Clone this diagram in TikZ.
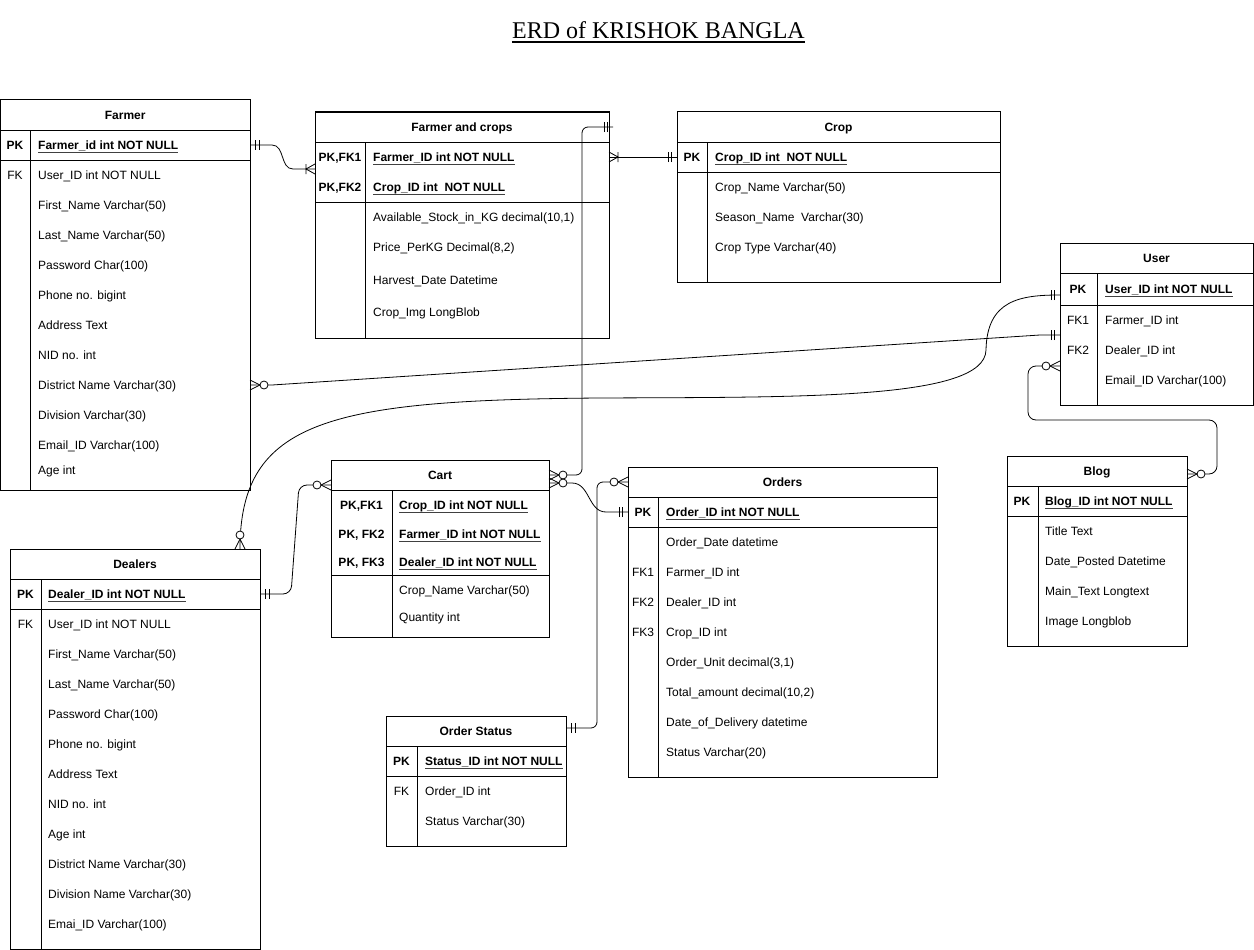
\documentclass[tikz,border=0pt]{standalone}
\usepackage{fontspec}
\setmainfont{Liberation Sans}
\newfontfamily\serifttl{Liberation Serif}
\usetikzlibrary{calc}
\newcommand\myul[1]{\setbox0=\hbox{#1}\rlap{\color{black!75}\rule[-3.2pt]{\wd0}{0.9pt}}\box0}
\tikzset{
  tblbox/.style={draw, line width=1pt, anchor=north west, inner sep=0pt, outer sep=0pt},
  inner/.style={line width=1pt},
  edge/.style={line width=0.8pt},
  hdr/.style={font=\bfseries\fontsize{12}{14}\selectfont, inner sep=0pt, text height=8.6pt, text depth=0pt, anchor=center},
  keytxt/.style={font=\fontsize{12}{14}\selectfont, inner sep=0pt, text height=8.6pt, text depth=0pt, anchor=center},
  fldtxt/.style={font=\fontsize{12}{14}\selectfont, inner sep=0pt, text height=8.6pt, text depth=0pt, anchor=west},
  mone/.pic={\draw[edge] (5.5,-5)--(5.5,5) (9,-5)--(9,5);},
  onemany/.pic={\draw[edge] (0,-5)--(9,0)--(0,5) (9,-5)--(9,5);},
  zeromany/.pic={\draw[edge] (0,-5)--(10,0)--(0,5); \draw[edge,fill=white] (14,0) circle[radius=4pt];},
}
\newcommand\erbox[7]{%
  \node[tblbox, minimum width=#4pt, minimum height=#5pt] (#1) at (#2,#3) {};
  \node[hdr] (#1-hdr) at ({#2+#4/2},{#3+15}) {#7};
  \draw[inner] (#2,{#3+30}) -- ({#2+#4},{#3+30});
  \draw[inner] (#6,{#3+30}) -- (#6,{#3+#5});
}
\newcommand\sepline[3]{\draw[inner] (#1,#3) -- (#2,#3);}
\newcommand\fld[6]{%
  \if\relax\detokenize{#5}\relax\else\node[keytxt] (#1-k) at (#2,#4) {#5};\fi
  \node[fldtxt] (#1) at (#3,#4) {#6};}
\begin{document}
\begin{tikzpicture}[x=1pt,y=-1pt]
\useasboundingbox (0,0) rectangle (1254,950);
% title
\node[font=\serifttl\fontsize{24}{28}\selectfont, inner sep=0pt, anchor=base] (title) at (658.5,39) {ERD of KRISHOK BANGLA};
\draw[line width=1.3pt] ([yshift=-3pt]title.base west) -- ([yshift=-3pt]title.base east);

% Farmer
\erbox{farmer}{0.5}{100}{249.5}{390}{30}{Farmer}
\sepline{0.5}{250}{160}
\fld{fa1}{15}{38}{145}{\textbf{PK}}{\textbf{\myul{Farmer\_id int NOT NULL}}}
\fld{fa2}{15}{38}{175}{FK}{User\_ID int NOT NULL}
\fld{fa3}{15}{38}{205}{}{First\_Name Varchar(50)}
\fld{fa4}{15}{38}{235}{}{Last\_Name Varchar(50)}
\fld{fa5}{15}{38}{265}{}{Password Char(100)}
\fld{fa6}{15}{38}{295}{}{Phone no. bigint}
\fld{fa7}{15}{38}{325}{}{Address Text}
\fld{fa8}{15}{38}{355}{}{NID no. int}
\fld{fa9}{15}{38}{385}{}{District Name Varchar(30)}
\fld{fa10}{15}{38}{415}{}{Division Varchar(30)}
\fld{fa11}{15}{38}{445}{}{Email\_ID Varchar(100)}
\fld{fa12}{15}{38}{470}{}{Age int}

% Farmer and crops
\erbox{fc}{315}{112}{294}{226}{365}{Farmer and crops}
\sepline{315}{609}{202}
\fld{fc1}{340}{373}{157}{\textbf{PK,FK1}}{\textbf{\myul{Farmer\_ID int NOT NULL}}}
\fld{fc2}{340}{373}{187}{\textbf{PK,FK2}}{\textbf{\myul{Crop\_ID int\ \ NOT NULL}}}
\fld{fc3}{340}{373}{217}{}{Available\_Stock\_in\_KG decimal(10,1)}
\fld{fc4}{340}{373}{247}{}{Price\_PerKG Decimal(8,2)}
\fld{fc5}{340}{373}{280}{}{Harvest\_Date Datetime}
\fld{fc6}{340}{373}{312}{}{Crop\_Img LongBlob}

% Crop
\erbox{crop}{677}{112}{323}{170}{707}{Crop}
\sepline{677}{1000}{172}
\fld{cr1}{692}{715}{157}{\textbf{PK}}{\textbf{\myul{Crop\_ID int\ \ NOT NULL}}}
\fld{cr2}{692}{715}{187}{}{Crop\_Name Varchar(50)}
\fld{cr3}{692}{715}{217}{}{Season\_Name\ \ Varchar(30)}
\fld{cr4}{692}{715}{247}{}{Crop Type Varchar(40)}

% User
\erbox{user}{1060}{243}{193}{162}{1097}{User}
\sepline{1060}{1253}{305}
\fld{us1}{1078}{1105}{289}{\textbf{PK}}{\textbf{\myul{User\_ID int NOT NULL}}}
\fld{us2}{1078}{1105}{320}{FK1}{Farmer\_ID int}
\fld{us3}{1078}{1105}{350}{FK2}{Dealer\_ID int}
\fld{us4}{1078}{1105}{380}{}{Email\_ID Varchar(100)}

% Blog
\erbox{blog}{1007}{456}{180}{190}{1038}{Blog}
\sepline{1007}{1187}{516}
\fld{bl1}{1022}{1045}{501}{\textbf{PK}}{\textbf{\myul{Blog\_ID int NOT NULL}}}
\fld{bl2}{1022}{1045}{531}{}{Title Text}
\fld{bl3}{1022}{1045}{561}{}{Date\_Posted Datetime}
\fld{bl4}{1022}{1045}{591}{}{Main\_Text Longtext}
\fld{bl5}{1022}{1045}{621}{}{Image Longblob}

% Cart
\erbox{cart}{331}{460}{218}{177}{392}{Cart}
\sepline{331}{549}{575}
\fld{ca1}{361.5}{399}{505}{\textbf{PK,FK1}}{\textbf{\myul{Crop\_ID int NOT NULL}}}
\fld{ca2}{361.5}{399}{534}{\textbf{PK, FK2}}{\textbf{\myul{Farmer\_ID int NOT NULL}}}
\fld{ca3}{361.5}{399}{562}{\textbf{PK, FK3}}{\textbf{\myul{Dealer\_ID int NOT NULL}}}
\fld{ca4}{361.5}{399}{590}{}{Crop\_Name Varchar(50)}
\fld{ca5}{361.5}{399}{617}{}{Quantity int}

% Orders
\erbox{orders}{628}{467}{309}{310}{658}{Orders}
\sepline{628}{937}{527}
\fld{or1}{643}{666}{512}{\textbf{PK}}{\textbf{\myul{Order\_ID int NOT NULL}}}
\fld{or2}{643}{666}{542}{}{Order\_Date datetime}
\fld{or3}{643}{666}{572}{FK1}{Farmer\_ID int}
\fld{or4}{643}{666}{602}{FK2}{Dealer\_ID int}
\fld{or5}{643}{666}{632}{FK3}{Crop\_ID int}
\fld{or6}{643}{666}{662}{}{Order\_Unit decimal(3,1)}
\fld{or7}{643}{666}{692}{}{Total\_amount decimal(10,2)}
\fld{or8}{643}{666}{722}{}{Date\_of\_Delivery datetime}
\fld{or9}{643}{666}{752}{}{Status Varchar(20)}

% Dealers
\erbox{dealers}{10}{549}{250}{400}{41}{Dealers}
\sepline{10}{260}{609}
\fld{de1}{25.5}{48}{594}{\textbf{PK}}{\textbf{\myul{Dealer\_ID int NOT NULL}}}
\fld{de2}{25.5}{48}{624}{FK}{User\_ID int NOT NULL}
\fld{de3}{25.5}{48}{654}{}{First\_Name Varchar(50)}
\fld{de4}{25.5}{48}{684}{}{Last\_Name Varchar(50)}
\fld{de5}{25.5}{48}{714}{}{Password Char(100)}
\fld{de6}{25.5}{48}{744}{}{Phone no. bigint}
\fld{de7}{25.5}{48}{774}{}{Address Text}
\fld{de8}{25.5}{48}{804}{}{NID no. int}
\fld{de9}{25.5}{48}{834}{}{Age int}
\fld{de10}{25.5}{48}{864}{}{District Name Varchar(30)}
\fld{de11}{25.5}{48}{894}{}{Division Name Varchar(30)}
\fld{de12}{25.5}{48}{924}{}{Emai\_ID Varchar(100)}

% Order Status
\erbox{ostat}{386}{716}{180}{130}{417}{Order Status}
\sepline{386}{566}{776}
\fld{os1}{401.5}{425}{761}{\textbf{PK}}{\textbf{\myul{Status\_ID int NOT NULL}}}
\fld{os2}{401.5}{425}{791}{FK}{Order\_ID int}
\fld{os3}{401.5}{425}{821}{}{Status Varchar(30)}

% ---------- connectors ----------
\coordinate (fcR) at ([xshift=4pt]fc.east |- 0,127);
% Farmer - Farmer and crops
\draw[edge] (farmer.east |- 0,145) -- (272,145) .. controls (285,145) and (280,169) .. (293,169) -- (fc.west |- 0,169);
\pic at (farmer.east |- 0,145) {mone};
\pic[rotate=180] at (fc.west |- 0,169) {onemany};
% Farmer and crops - Crop
\draw[edge] (fc.east |- 0,157) -- (crop.west |- 0,157);
\pic at (fc.east |- 0,157) {onemany};
\pic[rotate=180] at (crop.west |- 0,157) {mone};
% Cart - Farmer and crops
\draw[edge, rounded corners=6pt] (cart.east |- 0,475) -- (582,475) -- (582,127) -- (fcR);
\pic at (cart.east |- 0,475) {zeromany};
\pic[rotate=180] at (fcR) {mone};
% Cart - Orders
\draw[edge] (cart.east |- 0,483) -- (572,483) .. controls (590,483) and (588,512) .. (606,512) -- (orders.west |- 0,512);
\pic at (cart.east |- 0,483) {zeromany};
\pic[rotate=180] at (orders.west |- 0,512) {mone};
% Order Status - Orders
\draw[edge, rounded corners=6pt] (ostat.east |- 0,728) -- (597,728) -- (597,482) -- (orders.west |- 0,482);
\pic at (ostat.east |- 0,728) {mone};
\pic[rotate=180] at (orders.west |- 0,482) {zeromany};
% Dealers - Cart
\draw[edge, rounded corners=8pt] (dealers.east |- 0,594) -- (291,594) -- (299,485) -- (cart.west |- 0,485);
\pic at (dealers.east |- 0,594) {mone};
\pic[rotate=180] at (cart.west |- 0,485) {zeromany};
% User - Dealers
\draw[edge] (dealers.north -| 240,0) .. controls (240,420) and (330,400) .. (600,398) .. controls (800,397) and (985,400) .. (986,350) .. controls (987,300) and (1020,295) .. (user.west |- 0,295);
\pic[rotate=90] at (dealers.north -| 240,0) {zeromany};
\pic[rotate=180] at (user.west |- 0,295) {mone};
% User - Farmer
\draw[edge] (farmer.east |- 0,385) -- (272,385) -- (1040,335) -- (user.west |- 0,335);
\pic at (farmer.east |- 0,385) {zeromany};
\pic[rotate=180] at (user.west |- 0,335) {mone};
% User - Blog
\draw[edge, rounded corners=8pt] (user.west |- 0,366) -- (1028,366) -- (1028,420) -- (1217,420) -- (1217,474) -- (blog.east |- 0,474);
\pic[rotate=180] at (user.west |- 0,366) {zeromany};
\pic at (blog.east |- 0,474) {zeromany};
\end{tikzpicture}
\end{document}
